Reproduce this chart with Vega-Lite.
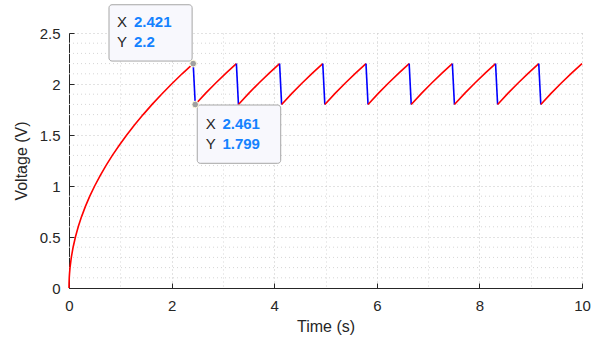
{
  "$schema": "https://vega.github.io/schema/vega-lite/v6.json",
  "width": 513,
  "height": 255,
  "autosize": "none",
  "padding": {"left": 69, "top": 33, "right": 20, "bottom": 51},
  "background": "white",
  "config": {
    "view": {"stroke": null},
    "font": "Liberation Sans",
    "axis": {
      "domainColor": "#262626",
      "tickColor": "#262626",
      "labelColor": "#262626",
      "titleColor": "#262626",
      "labelFontSize": 15,
      "titleFontSize": 16,
      "titleFontWeight": "normal",
      "labelFont": "Liberation Sans",
      "titleFont": "Liberation Sans"
    }
  },
  "datasets": {
    "curve": [
      {"s": 0, "k": "charge", "t": 0, "v": 0},
      {"s": 0, "k": "charge", "t": 0.001, "v": 0.045},
      {"s": 0, "k": "charge", "t": 0.005, "v": 0.1},
      {"s": 0, "k": "charge", "t": 0.01, "v": 0.141},
      {"s": 0, "k": "charge", "t": 0.02, "v": 0.2},
      {"s": 0, "k": "charge", "t": 0.045, "v": 0.3},
      {"s": 0, "k": "charge", "t": 0.08, "v": 0.4},
      {"s": 0, "k": "charge", "t": 0.125, "v": 0.5},
      {"s": 0, "k": "charge", "t": 0.18, "v": 0.6},
      {"s": 0, "k": "charge", "t": 0.245, "v": 0.7},
      {"s": 0, "k": "charge", "t": 0.32, "v": 0.8},
      {"s": 0, "k": "charge", "t": 0.405, "v": 0.9},
      {"s": 0, "k": "charge", "t": 0.5, "v": 1.0},
      {"s": 0, "k": "charge", "t": 0.605, "v": 1.1},
      {"s": 0, "k": "charge", "t": 0.72, "v": 1.2},
      {"s": 0, "k": "charge", "t": 0.845, "v": 1.3},
      {"s": 0, "k": "charge", "t": 0.98, "v": 1.4},
      {"s": 0, "k": "charge", "t": 1.125, "v": 1.5},
      {"s": 0, "k": "charge", "t": 1.28, "v": 1.6},
      {"s": 0, "k": "charge", "t": 1.445, "v": 1.7},
      {"s": 0, "k": "charge", "t": 1.62, "v": 1.8},
      {"s": 0, "k": "charge", "t": 1.805, "v": 1.9},
      {"s": 0, "k": "charge", "t": 2.0, "v": 2.0},
      {"s": 0, "k": "charge", "t": 2.205, "v": 2.1},
      {"s": 0, "k": "charge", "t": 2.421, "v": 2.2},
      {"s": 1, "k": "discharge", "t": 2.421, "v": 2.2},
      {"s": 1, "k": "discharge", "t": 2.461, "v": 1.799},
      {"s": 2, "k": "charge", "t": 2.461, "v": 1.799},
      {"s": 2, "k": "charge", "t": 2.661, "v": 1.908},
      {"s": 2, "k": "charge", "t": 2.861, "v": 2.01},
      {"s": 2, "k": "charge", "t": 3.061, "v": 2.107},
      {"s": 2, "k": "charge", "t": 3.263, "v": 2.2},
      {"s": 3, "k": "discharge", "t": 3.263, "v": 2.2},
      {"s": 3, "k": "discharge", "t": 3.303, "v": 1.799},
      {"s": 4, "k": "charge", "t": 3.303, "v": 1.799},
      {"s": 4, "k": "charge", "t": 3.503, "v": 1.908},
      {"s": 4, "k": "charge", "t": 3.703, "v": 2.01},
      {"s": 4, "k": "charge", "t": 3.903, "v": 2.107},
      {"s": 4, "k": "charge", "t": 4.105, "v": 2.2},
      {"s": 5, "k": "discharge", "t": 4.105, "v": 2.2},
      {"s": 5, "k": "discharge", "t": 4.145, "v": 1.799},
      {"s": 6, "k": "charge", "t": 4.145, "v": 1.799},
      {"s": 6, "k": "charge", "t": 4.345, "v": 1.908},
      {"s": 6, "k": "charge", "t": 4.545, "v": 2.01},
      {"s": 6, "k": "charge", "t": 4.745, "v": 2.107},
      {"s": 6, "k": "charge", "t": 4.947, "v": 2.2},
      {"s": 7, "k": "discharge", "t": 4.947, "v": 2.2},
      {"s": 7, "k": "discharge", "t": 4.987, "v": 1.799},
      {"s": 8, "k": "charge", "t": 4.987, "v": 1.799},
      {"s": 8, "k": "charge", "t": 5.187, "v": 1.908},
      {"s": 8, "k": "charge", "t": 5.387, "v": 2.01},
      {"s": 8, "k": "charge", "t": 5.587, "v": 2.107},
      {"s": 8, "k": "charge", "t": 5.789, "v": 2.2},
      {"s": 9, "k": "discharge", "t": 5.789, "v": 2.2},
      {"s": 9, "k": "discharge", "t": 5.829, "v": 1.799},
      {"s": 10, "k": "charge", "t": 5.829, "v": 1.799},
      {"s": 10, "k": "charge", "t": 6.029, "v": 1.908},
      {"s": 10, "k": "charge", "t": 6.229, "v": 2.01},
      {"s": 10, "k": "charge", "t": 6.429, "v": 2.107},
      {"s": 10, "k": "charge", "t": 6.631, "v": 2.2},
      {"s": 11, "k": "discharge", "t": 6.631, "v": 2.2},
      {"s": 11, "k": "discharge", "t": 6.671, "v": 1.799},
      {"s": 12, "k": "charge", "t": 6.671, "v": 1.799},
      {"s": 12, "k": "charge", "t": 6.871, "v": 1.908},
      {"s": 12, "k": "charge", "t": 7.071, "v": 2.01},
      {"s": 12, "k": "charge", "t": 7.271, "v": 2.107},
      {"s": 12, "k": "charge", "t": 7.473, "v": 2.2},
      {"s": 13, "k": "discharge", "t": 7.473, "v": 2.2},
      {"s": 13, "k": "discharge", "t": 7.513, "v": 1.799},
      {"s": 14, "k": "charge", "t": 7.513, "v": 1.799},
      {"s": 14, "k": "charge", "t": 7.713, "v": 1.908},
      {"s": 14, "k": "charge", "t": 7.913, "v": 2.01},
      {"s": 14, "k": "charge", "t": 8.113, "v": 2.107},
      {"s": 14, "k": "charge", "t": 8.315, "v": 2.2},
      {"s": 15, "k": "discharge", "t": 8.315, "v": 2.2},
      {"s": 15, "k": "discharge", "t": 8.355, "v": 1.799},
      {"s": 16, "k": "charge", "t": 8.355, "v": 1.799},
      {"s": 16, "k": "charge", "t": 8.555, "v": 1.908},
      {"s": 16, "k": "charge", "t": 8.755, "v": 2.01},
      {"s": 16, "k": "charge", "t": 8.955, "v": 2.107},
      {"s": 16, "k": "charge", "t": 9.157, "v": 2.2},
      {"s": 17, "k": "discharge", "t": 9.157, "v": 2.2},
      {"s": 17, "k": "discharge", "t": 9.197, "v": 1.799},
      {"s": 18, "k": "charge", "t": 9.197, "v": 1.799},
      {"s": 18, "k": "charge", "t": 9.397, "v": 1.908},
      {"s": 18, "k": "charge", "t": 9.597, "v": 2.01},
      {"s": 18, "k": "charge", "t": 9.797, "v": 2.107},
      {"s": 18, "k": "charge", "t": 10.0, "v": 2.2}
    ],
    "ygrid": [
      {"g": 0.1}, {"g": 0.2}, {"g": 0.3}, {"g": 0.4},
      {"g": 0.6}, {"g": 0.7}, {"g": 0.8}, {"g": 0.9},
      {"g": 1.1}, {"g": 1.2}, {"g": 1.3}, {"g": 1.4},
      {"g": 1.6}, {"g": 1.7}, {"g": 1.8}, {"g": 1.9},
      {"g": 2.1}, {"g": 2.2}, {"g": 2.3}, {"g": 2.4}
    ],
    "tips": [
      {"t": 2.421, "v": 2.2},
      {"t": 2.461, "v": 1.799}
    ],
    "boxes": [
      {"t1": 0.78, "t2": 2.40, "v1": 2.225, "v2": 2.777},
      {"t1": 2.50, "t2": 4.127, "v1": 1.2225, "v2": 1.794}
    ],
    "tiptext": [
      {"t": 0.936, "v": 2.608, "key": "X", "tv": 1.267, "val": "2.421"},
      {"t": 0.936, "v": 2.412, "key": "Y", "tv": 1.267, "val": "2.2"},
      {"t": 2.664, "v": 1.605, "key": "X", "tv": 2.99, "val": "2.461"},
      {"t": 2.664, "v": 1.412, "key": "Y", "tv": 2.99, "val": "1.799"}
    ]
  },
  "layer": [
    {
      "data": {"name": "ygrid"},
      "mark": {"type": "rule", "strokeDash": [1, 3], "color": "#d6d6d6", "strokeWidth": 1},
      "encoding": {
        "y": {"field": "g", "type": "quantitative"}
      }
    },
    {
      "data": {"name": "curve"},
      "mark": {"type": "line", "strokeWidth": 1.6, "interpolate": "linear"},
      "encoding": {
        "x": {
          "field": "t", "type": "quantitative",
          "scale": {"domain": [0, 10], "nice": false, "zero": false},
          "axis": {
            "title": "Time (s)",
            "values": [0,0.5,1,1.5,2,2.5,3,3.5,4,4.5,5,5.5,6,6.5,7,7.5,8,8.5,9,9.5,10],
            "labelExpr": "datum.value % 2 === 0 ? datum.label : ''",
            "labelOverlap": false,
            "labelFlush": false,
            "grid": true,
            "gridDash": [1, 3],
            "gridColor": {"condition": {"test": "datum.value % 2 === 0", "value": "#c4c4c4"}, "value": "#d6d6d6"},
            "tickOpacity": {"condition": {"test": "datum.value % 2 === 0", "value": 1}, "value": 0},
            "tickSize": -5,
            "labelPadding": 15,
            "titlePadding": 5
          }
        },
        "y": {
          "field": "v", "type": "quantitative",
          "scale": {"domain": [0, 2.5], "nice": false},
          "axis": {
            "title": "Voltage (V)",
            "values": [0, 0.5, 1, 1.5, 2, 2.5],
            "format": "~g",
            "labelOverlap": false,
            "labelFlush": false,
            "grid": true,
            "gridDash": [1, 3],
            "gridColor": "#c4c4c4",
            "tickSize": -5,
            "labelPadding": 14,
            "titlePadding": 10
          }
        },
        "color": {
          "field": "k", "type": "nominal",
          "scale": {"domain": ["charge", "discharge"], "range": ["#ff0000", "#0000ff"]},
          "legend": null
        },
        "detail": {"field": "s", "type": "nominal"}
      }
    },
    {
      "data": {"name": "boxes"},
      "mark": {"type": "rect", "fill": "#f8f8fd", "stroke": "#a6a6a6", "strokeWidth": 1, "cornerRadius": 3},
      "encoding": {
        "x": {"field": "t1", "type": "quantitative"},
        "x2": {"field": "t2"},
        "y": {"field": "v1", "type": "quantitative"},
        "y2": {"field": "v2"}
      }
    },
    {
      "data": {"name": "tips"},
      "mark": {"type": "point", "filled": true, "size": 45, "fill": "#a0a0a0", "stroke": "#fffbe0", "strokeWidth": 1, "opacity": 1},
      "encoding": {
        "x": {"field": "t", "type": "quantitative"},
        "y": {"field": "v", "type": "quantitative"}
      }
    },
    {
      "data": {"name": "tiptext"},
      "mark": {"type": "text", "align": "left", "baseline": "middle", "fontSize": 15, "color": "#262626", "font": "Liberation Sans"},
      "encoding": {
        "x": {"field": "t", "type": "quantitative"},
        "y": {"field": "v", "type": "quantitative"},
        "text": {"field": "key"}
      }
    },
    {
      "data": {"name": "tiptext"},
      "mark": {"type": "text", "align": "left", "baseline": "middle", "fontSize": 15, "fontWeight": "bold", "color": "#1482ff", "font": "Liberation Sans"},
      "encoding": {
        "x": {"field": "tv", "type": "quantitative"},
        "y": {"field": "v", "type": "quantitative"},
        "text": {"field": "val"}
      }
    }
  ]
}
